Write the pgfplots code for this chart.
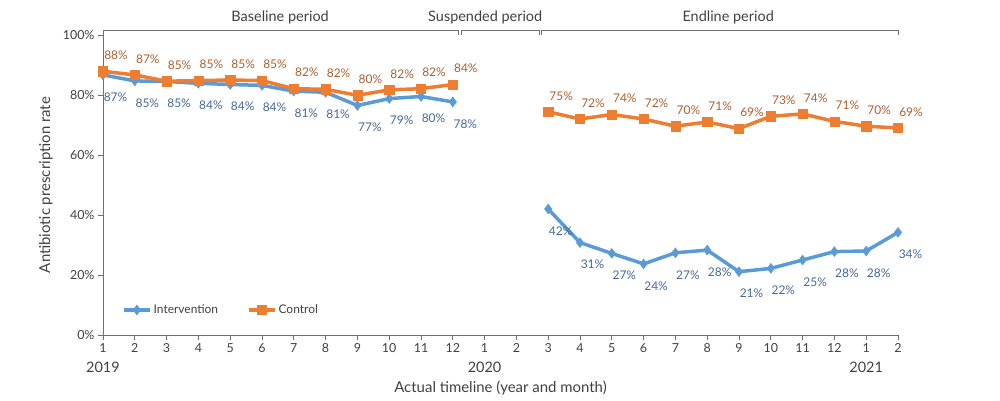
\documentclass[border=0pt]{standalone}
\usepackage{fontspec}
\setmainfont{Lato}
\usepackage{pgfplots}
\pgfplotsset{compat=1.18}
\usepackage{pgfplotstable}

\definecolor{iblue}{RGB}{91,155,213}
\definecolor{corange}{RGB}{237,125,49}
\definecolor{ilab}{RGB}{68,104,148}
\definecolor{clab}{RGB}{168,96,48}
\definecolor{axgray}{RGB}{110,110,110}
\definecolor{txt}{RGB}{64,64,64}

\pgfplotstableread{
x y lab
0 86.7 87
1 84.7 85
2 84.5 85
3 83.9 84
4 83.5 84
5 83.2 84
6 81.3 81
7 80.9 81
8 76.5 77
9 78.8 79
10 79.5 80
11 77.7 78
}\intbase

\pgfplotstableread{
x y lab
14 42.0 42
15 30.8 31
16 27.2 27
17 23.7 24
18 27.4 27
19 28.3 28
20 21.1 21
21 22.2 22
22 25.0 25
23 27.8 28
24 28.0 28
25 34.2 34
}\intend

\pgfplotstableread{
x y lab
0 87.9 88
1 86.7 87
2 84.6 85
3 84.8 85
4 85.0 85
5 84.8 85
6 82.1 82
7 81.9 82
8 79.9 80
9 81.7 82
10 82.1 82
11 83.5 84
}\conbase

\pgfplotstableread{
x y lab
14 74.4 75
15 72.0 72
16 73.5 74
17 72.0 72
18 69.6 70
19 71.0 71
20 68.8 69
21 72.9 73
22 73.7 74
23 71.2 71
24 69.6 70
25 69.0 69
}\conend

\begin{document}
\begin{tikzpicture}
\begin{axis}[
  scale only axis, width=795bp, height=300bp,
  xmin=0, xmax=25, ymin=0, ymax=100,
  axis x line*=bottom, axis y line*=left,
  axis line style={axgray, line width=0.8bp},
  xtick={0,...,25},
  xticklabels={1,2,3,4,5,6,7,8,9,10,11,12,1,2,3,4,5,6,7,8,9,10,11,12,1,2},
  ytick={0,20,40,60,80,100},
  yticklabel={\pgfmathprintnumber{\tick}\%},
  /pgf/number format/assume math mode=true,
  tick style={axgray, line width=0.8bp},
  tick align=outside, major tick length=5bp,
  ticklabel style={font=\fontsize{12.5}{14}\selectfont, text=txt},
  clip=false,
  xlabel={Actual timeline (year and month)},
  xlabel style={at={(axis description cs:0.5,0)}, anchor=center, yshift=-53bp, font=\fontsize{15}{17}\selectfont, text=txt},
  ylabel={Antibiotic prescription rate},
  ylabel style={at={(axis description cs:-0.0717,0.5)}, anchor=center, font=\fontsize{15}{17}\selectfont, text=txt},
  legend columns=2,
  legend style={at={(rel axis cs:0.0201,0.0833)}, anchor=west, draw=none, fill=none,
    font=\fontsize{12}{14}\selectfont, text=txt,
    /tikz/every even column/.append style={column sep=27bp}},
  legend image code/.code={\draw[mark repeat=2,mark phase=2,#1] plot coordinates {(0bp,0bp)(13bp,0bp)(26bp,0bp)};},
  point meta=explicit symbolic,
  nodes near coords={\pgfplotspointmeta\%},
]
\addplot[iblue, line width=3.5bp, mark=diamond*, mark size=5bp, mark options={solid, line width=0.4bp},
  nodes near coords style={anchor=center, xshift=12.5bp, yshift=-22bp, font=\fontsize{12}{14}\selectfont, text=ilab}]
  table[x=x, y=y, meta=lab] {\intbase};
\addlegendentry{Intervention}
\addplot[corange, line width=3.5bp, mark=square*, mark size=4.6bp, mark options={solid, line width=0.4bp},
  nodes near coords style={anchor=center, xshift=13bp, yshift=16bp, font=\fontsize{12}{14}\selectfont, text=clab}]
  table[x=x, y=y, meta=lab] {\conbase};
\addlegendentry{Control}
\addplot[iblue, line width=3.5bp, mark=diamond*, mark size=5bp, mark options={solid, line width=0.4bp}, forget plot,
  nodes near coords style={anchor=center, xshift=12.5bp, yshift=-22bp, font=\fontsize{12}{14}\selectfont, text=ilab}]
  table[x=x, y=y, meta=lab] {\intend};
\addplot[corange, line width=3.5bp, mark=square*, mark size=4.6bp, mark options={solid, line width=0.4bp}, forget plot,
  nodes near coords style={anchor=center, xshift=13bp, yshift=16bp, font=\fontsize{12}{14}\selectfont, text=clab}]
  table[x=x, y=y, meta=lab] {\conend};

\draw[axgray, line width=0.8bp] (axis cs:0,100) -- (axis cs:0,101.67) -- (axis cs:11.17,101.67) -- (axis cs:11.17,100);
\draw[axgray, line width=0.8bp] (axis cs:11.26,100) -- (axis cs:11.26,101.67) -- (axis cs:13.71,101.67) -- (axis cs:13.71,100);
\draw[axgray, line width=0.8bp] (axis cs:13.78,100) -- (axis cs:13.78,101.67) -- (axis cs:25,101.67) -- (axis cs:25,100);
\node[font=\fontsize{14.5}{16}\selectfont, text=txt] at (axis cs:5.57,106) {Baseline period};
\node[font=\fontsize{14.5}{16}\selectfont, text=txt] at (axis cs:12.02,106) {Suspended period};
\node[font=\fontsize{14.5}{16}\selectfont, text=txt] at (axis cs:19.66,106) {Endline period};
\node[font=\fontsize{14.5}{16}\selectfont, text=txt] at (axis cs:0,-10.67) {2019};
\node[font=\fontsize{14.5}{16}\selectfont, text=txt] at (axis cs:12,-10.67) {2020};
\node[font=\fontsize{14.5}{16}\selectfont, text=txt] at (axis cs:24,-10.67) {2021};
\coordinate (BL) at (rel axis cs:0,0);
\coordinate (TR) at (rel axis cs:1,1);
\end{axis}
\pgfresetboundingbox
\path[use as bounding box] ([shift={(-103bp,-66bp)}]BL) rectangle ([shift={(102bp,35bp)}]TR);
\end{tikzpicture}
\end{document}
